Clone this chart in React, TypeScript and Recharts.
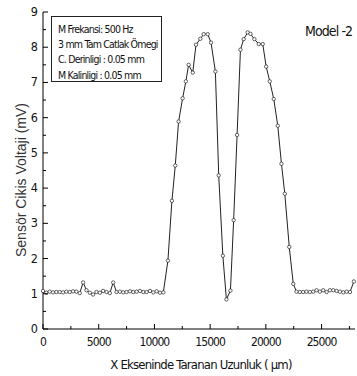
import React from "react";
import { LineChart, Line, XAxis, YAxis } from "recharts";

// scan position along X (µm)
const positions = [
  0, 300, 600, 900, 1200, 1500, 1800, 2100, 2400, 2700, 3000, 3300, 3600, 3900, 4200, 4500,
  4800, 5100, 5400, 5700, 6000, 6300, 6600, 6900, 7200, 7500, 7800, 8100, 8400, 8700, 9000,
  9300, 9600, 9900, 10200, 10500, 10800,
  11210, 11570, 11870, 12170, 12530, 12820, 13070, 13440, 13730, 14120, 14420, 14780, 15080,
  15470, 15770, 16140, 16460, 16820, 17110, 17420, 17720, 18010, 18370, 18620, 18970, 19360,
  19720, 20030, 20350, 20710, 21070, 21400, 21700, 22100, 22460, 22750,
  23050, 23350, 23650, 23950, 24250, 24550, 24850, 25150, 25450, 25750, 26050, 26350, 26650,
  26950, 27250, 27550, 27900,
];

// sensor output (mV)
const voltage = [
  1.08, 1.03, 1.06, 1.04, 1.05, 1.05, 1.04, 1.06, 1.05, 1.07, 1.06, 1.02, 1.32, 1.1, 1.03, 0.98,
  1.05, 1.03, 1.08, 1.05, 1.02, 1.32, 1.05, 1.06, 1.04, 1.05, 1.07, 1.05, 1.06, 1.08, 1.05,
  1.05, 1.08, 1.04, 1.07, 1.03, 1.04,
  1.94, 3.64, 4.64, 5.89, 6.55, 7.03, 7.5, 7.28, 8.07, 8.24, 8.37, 8.37, 8.13,
  7.31, 4.36, 2.08, 0.84, 1.09, 3.09, 5.51, 7.93, 8.23, 8.42, 8.38, 8.23, 8.09,
  8.09, 7.45, 7.03, 6.53, 5.77, 4.69, 3.84, 2.33, 1.28, 1.06,
  1.05, 1.05, 1.06, 1.05, 1.06, 1.1, 1.06, 1.1, 1.05, 1.1, 1.1, 1.08, 1.06,
  1.04, 1.06, 1.05, 1.35,
];

const xTicks = [0, 2500, 5000, 7500, 10000, 12500, 15000, 17500, 20000, 22500, 25000, 27500];
const yTicks = [0, 0.5, 1, 1.5, 2, 2.5, 3, 3.5, 4, 4.5, 5, 5.5, 6, 6.5, 7, 7.5, 8, 8.5, 9];

const infoLines = [
  "M Frekansi: 500 Hz",
  "3 mm Tam Catlak Ömegi",
  "C. Derinligi : 0.05 mm",
  "M Kalinligi : 0.05 mm",
];

const data = positions.map((x, i) => ({ x, v: voltage[i] }));

const narrow = "'Liberation Sans Narrow', 'DejaVu Sans Condensed', 'Liberation Sans', sans-serif";

const BottomTick = (props: any) => {
  const { x, y, payload } = props;
  const major = payload.value % 5000 === 0;
  return (
    <g>
      <line x1={x} y1={y} x2={x} y2={y - (major ? 5 : 3)} stroke="#000" />
      {major && (
        <text x={x} y={y + 17} textAnchor="middle" fontSize={12} fontFamily={narrow} letterSpacing={-0.9} fill="#111">
          {payload.value}
        </text>
      )}
    </g>
  );
};

const TopTick = (props: any) => {
  const { x, y, payload } = props;
  const major = payload.value % 5000 === 0;
  return <line x1={x} y1={y} x2={x} y2={y + (major ? 5 : 3)} stroke="#000" />;
};

const LeftTick = (props: any) => {
  const { x, y, payload } = props;
  const major = Number.isInteger(payload.value);
  return (
    <g>
      <line x1={x} y1={y} x2={x + (major ? 5 : 3)} y2={y} stroke="#000" />
      {major && (
        <text x={x - 5} y={y + 4} textAnchor="end" fontSize={12.5} fontFamily={narrow} fill="#111">
          {payload.value}
        </text>
      )}
    </g>
  );
};

const RightTick = (props: any) => {
  const { x, y, payload } = props;
  const major = Number.isInteger(payload.value);
  return <line x1={x} y1={y} x2={x - (major ? 5 : 3)} y2={y} stroke="#000" />;
};

const YLabel = () => (
  <text transform="translate(26,180) rotate(-90)" textAnchor="middle" fontSize={14} fontFamily="'Liberation Sans', Arial, sans-serif" fill="#333">
    Sensör Cikis Voltaji (mV)
  </text>
);

const XLabel = () => (
  <text x={201} y={369} textAnchor="middle" fontSize={13} fontFamily={narrow} letterSpacing={-0.8} fill="#111">
    X Ekseninde Taranan Uzunluk ( µm)
  </text>
);

export default function App() {
  return (
    <div style={{ position: "relative", width: 357, height: 376, background: "#fff" }}>
      <style>{`body{margin:0}`}</style>
      <LineChart width={357} height={376} data={data} margin={{ top: 12, right: 2, left: 0, bottom: 0 }}>
        <XAxis
          xAxisId="main"
          dataKey="x"
          type="number"
          domain={[0, 28000]}
          ticks={xTicks}
          interval={0}
          height={47}
          tickSize={0}
          tickMargin={0}
          tickLine={false}
          tick={<BottomTick />}
          axisLine={{ stroke: "#000" }}
          label={<XLabel />}
        />
        <XAxis
          xAxisId="top"
          orientation="top"
          dataKey="x"
          type="number"
          domain={[0, 28000]}
          ticks={xTicks}
          interval={0}
          height={0}
          tickSize={0}
          tickMargin={0}
          tickLine={false}
          tick={<TopTick />}
          axisLine={{ stroke: "#000" }}
        />
        <YAxis
          yAxisId="left"
          type="number"
          domain={[0, 9]}
          ticks={yTicks}
          interval={0}
          width={43}
          tickSize={0}
          tickMargin={0}
          tickLine={false}
          tick={<LeftTick />}
          axisLine={{ stroke: "#000" }}
          label={<YLabel />}
        />
        <YAxis
          yAxisId="right"
          orientation="right"
          type="number"
          domain={[0, 9]}
          ticks={yTicks}
          interval={0}
          width={0}
          tickSize={0}
          tickMargin={0}
          tickLine={false}
          tick={<RightTick />}
          axisLine={{ stroke: "#000" }}
        />
        <Line
          xAxisId="main"
          yAxisId="left"
          type="linear"
          dataKey="v"
          stroke="#222"
          strokeWidth={1}
          dot={{ r: 1.7, stroke: "#222", strokeWidth: 0.7, fill: "#fff" }}
          activeDot={false}
          isAnimationActive={false}
        />
      </LineChart>
      <div
        style={{
          position: "absolute",
          left: 51,
          top: 16,
          width: 111,
          height: 66,
          border: "1px solid #222",
          padding: "5px 0 0 6px",
          boxSizing: "border-box",
          fontFamily: narrow,
          fontSize: 10.5,
          letterSpacing: -0.8,
          lineHeight: "15.2px",
          color: "#111",
          background: "#fff",
        }}
      >
        {infoLines.map((t) => (
          <div key={t} style={{ whiteSpace: "nowrap" }}>{t}</div>
        ))}
      </div>
      <div
        style={{
          position: "absolute",
          left: 305,
          top: 23,
          fontFamily: narrow,
          fontSize: 14,
          letterSpacing: -0.9,
          color: "#111",
          whiteSpace: "nowrap",
        }}
      >
        Model -2
      </div>
    </div>
  );
}
